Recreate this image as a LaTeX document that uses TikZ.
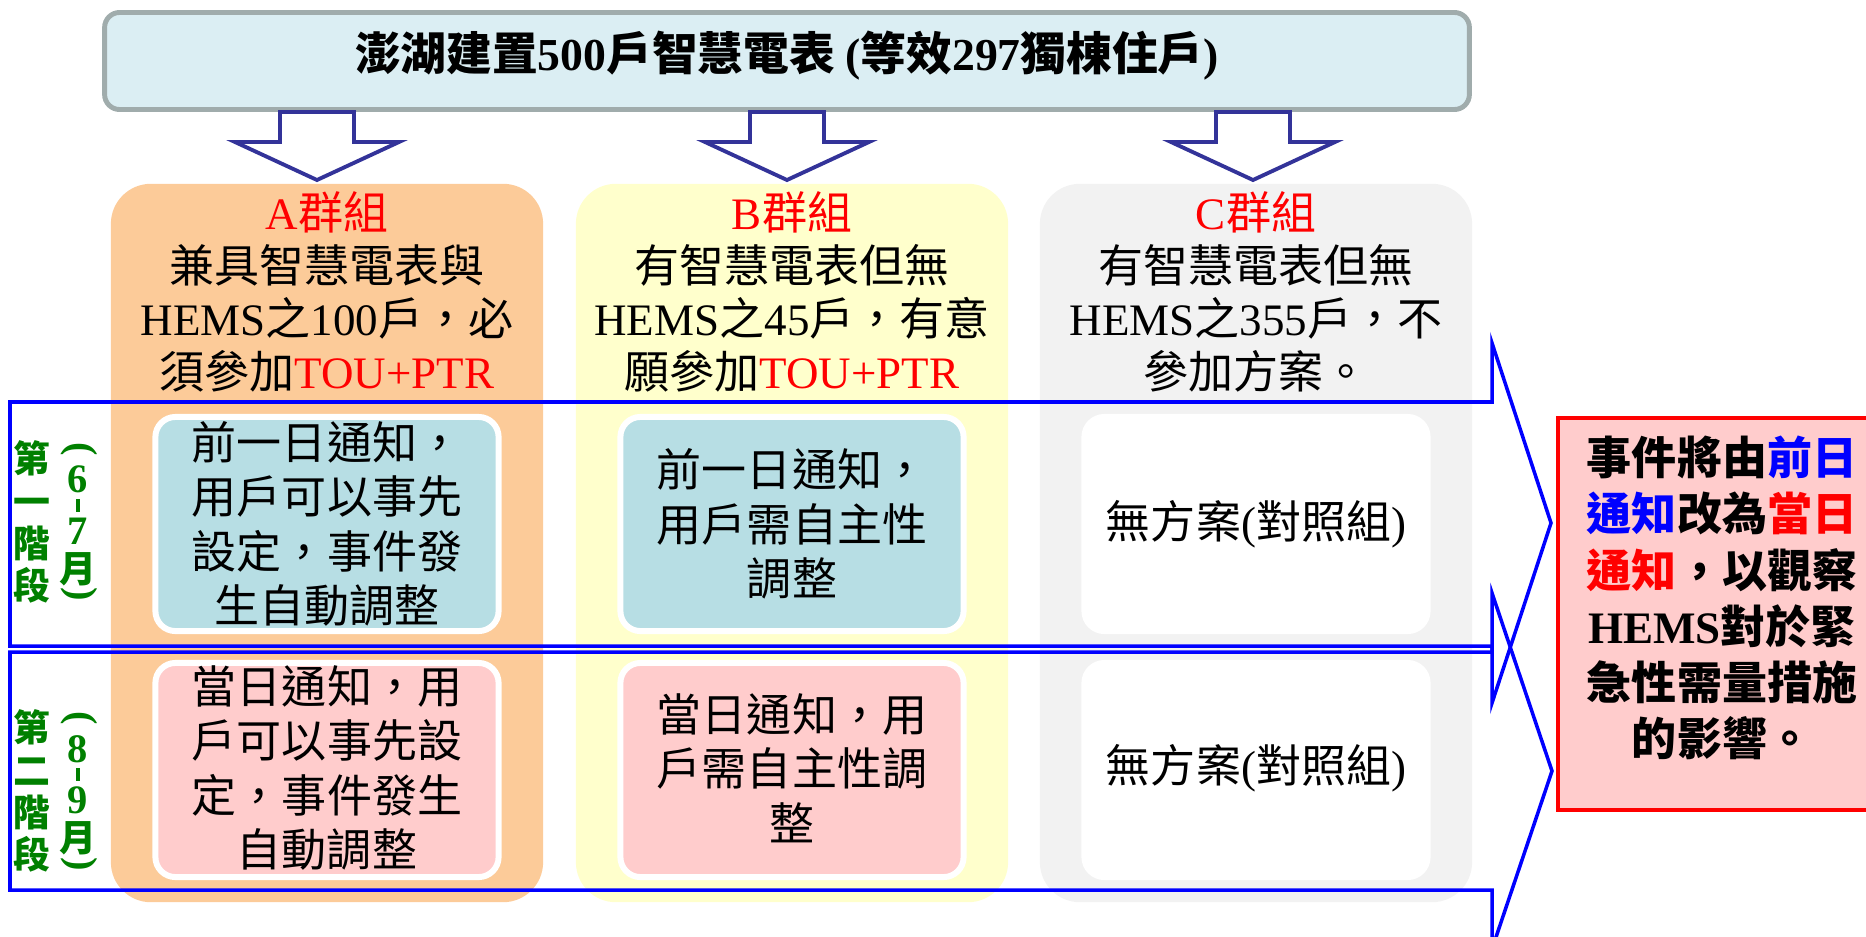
\documentclass[tikz,border=0pt]{standalone}
\usepackage{fontspec}
\setmainfont{Noto Sans CJK TC}
\newfontfamily\latinfont{Liberation Serif}
\newcommand\engl[1]{{\latinfont #1}}
\definecolor{titlefill}{RGB}{219,238,243}
\definecolor{titleline}{RGB}{160,172,172}
\definecolor{grpAfill}{RGB}{252,203,153}
\definecolor{grpBfill}{RGB}{255,255,204}
\definecolor{grpCfill}{RGB}{242,242,242}
\definecolor{tealfill}{RGB}{183,222,228}
\definecolor{pinkfill}{RGB}{255,204,204}
\definecolor{arrowblue}{RGB}{51,51,153}
\definecolor{stagegreen}{RGB}{0,128,0}
\tikzset{
  colbox/.style={rounded corners=0.4cm, minimum width=4.32cm, minimum height=7.18cm},
  planbox/.style={draw=white, line width=1.7pt, rounded corners=0.2cm, minimum width=3.43cm, minimum height=2.14cm},
  headtext/.style={align=center, font=\fontsize{12.8}{15.1}\selectfont},
  plantext/.style={align=center, font=\fontsize{12.8}{15.5}\selectfont},
  stagetext/.style={inner sep=0pt, align=center, text=stagegreen, font=\bfseries\fontsize{10.5}{12}\selectfont},
  stagechar/.style={inner sep=0pt, text=stagegreen, font=\bfseries\fontsize{11.5}{12}\selectfont},
  blockarrow/.style={draw=arrowblue, fill=white, line width=1.1pt},
  stagearrow/.style={draw=blue, line width=1pt},
}
\begin{document}
\begin{tikzpicture}[x=0.01cm, y=-0.01cm]
\useasboundingbox (0,0) rectangle (1866,936);
% groups
\node[colbox, fill=grpAfill] (grpA) at (327,543){};
\node[colbox, fill=grpBfill] (grpB) at (792,543){};
\node[colbox, fill=grpCfill] (grpC) at (1256,543){};
\node[headtext] (grpAtxt) at (327,292){\textcolor{red}{\engl{A}群組}\\兼具智慧電表與\\\engl{HEMS}之\engl{100}戶，必\\須參加\textcolor{red}{\engl{TOU+PTR}}};
\node[headtext] (grpBtxt) at (792,292){\textcolor{red}{\engl{B}群組}\\有智慧電表但無\\\engl{HEMS}之\engl{45}戶，有意\\願參加\textcolor{red}{\engl{TOU+PTR}}};
\node[headtext] (grpCtxt) at (1256,292){\textcolor{red}{\engl{C}群組}\\有智慧電表但無\\\engl{HEMS}之\engl{355}戶，不\\參加方案。};
% plans, first stage
\node[planbox, fill=tealfill] (planA1) at (327,524){};
\node[planbox, fill=tealfill] (planB1) at (792,524){};
\node[planbox, fill=white] (planC1) at (1256,524){};
\node[plantext] (planA1txt) at (327,524){前一日通知，\\用戶可以事先\\設定，事件發\\生自動調整};
\node[plantext] (planB1txt) at (792,524){前一日通知，\\用戶需自主性\\調整};
\node[plantext] (planC1txt) at (1256,524){無方案\engl{(}對照組\engl{)}};
% plans, second stage
\node[planbox, fill=pinkfill] (planA2) at (327,770){};
\node[planbox, fill=pinkfill] (planB2) at (792,770){};
\node[planbox, fill=white] (planC2) at (1256,770){};
\node[plantext] (planA2txt) at (327,768){當日通知，用\\戶可以事先設\\定，事件發生\\自動調整};
\node[plantext] (planB2txt) at (792,768){當日通知，用\\戶需自主性調\\整};
\node[plantext] (planC2txt) at (1256,768){無方案\engl{(}對照組\engl{)}};
% title
\node[draw=titleline, fill=titlefill, line width=1.4pt, rounded corners=0.15cm, minimum width=13.64cm, minimum height=0.97cm] (title) at (787,61){};
\node[font=\bfseries\fontsize{13}{15}\selectfont] (titletxt) at (787,56){澎湖建置\engl{500}戶智慧電表 \engl{(}等效\engl{297}獨棟住戶\engl{)}};
\foreach \cx in {317,787,1253}
  \draw[blockarrow] (\cx-37,112) -- (\cx-37,142) -- (\cx-82,142) -- (\cx,180) -- (\cx+82,142) -- (\cx+37,142) -- (\cx+37,112) -- cycle;
% stages
\draw[stagearrow] (10,402) -- (1492,402) -- (1492,343) -- (1551,523) -- (1492,703) -- (1492,646) -- (10,646) -- cycle;
\draw[stagearrow] (10,652) -- (1492,652) -- (1492,593) -- (1552,771) -- (1492,949) -- (1492,890) -- (10,890) -- cycle;
\node[stagetext] (stage1a) at (32,522){第\\一\\階\\段};
\node[stagechar, rotate=-90] (stage1open) at (79,449){\engl{(}};
\node[stagechar] (stage1from) at (78,479){\engl{6}};
\node[stagechar] (stage1dash) at (78,505){\rule{0.9pt}{3.7pt}};
\node[stagechar] (stage1to) at (78,531){\engl{7}};
\node[stagetext] (stage1month) at (78,569){月};
\node[stagechar, rotate=-90] (stage1close) at (79,594){\engl{)}};
\node[stagetext] (stage2a) at (32,791){第\\二\\階\\段};
\node[stagechar, rotate=-90] (stage2open) at (79,718){\engl{(}};
\node[stagechar] (stage2from) at (78,749){\engl{8}};
\node[stagechar] (stage2dash) at (78,774){\rule{0.9pt}{3.7pt}};
\node[stagechar] (stage2to) at (78,800){\engl{9}};
\node[stagetext] (stage2month) at (78,838){月};
\node[stagechar, rotate=-90] (stage2close) at (79,864){\engl{)}};
% result
\node[draw=red, fill=pinkfill, line width=1pt, minimum width=3.28cm, minimum height=3.92cm] (result) at (1722,614){};
\node[align=center, font=\bfseries\fontsize{12.8}{16}\selectfont] (resulttxt) at (1722,598){事件將由\textcolor{blue}{前日}\\\textcolor{blue}{通知}改為\textcolor{red}{當日}\\\textcolor{red}{通知}，以觀察\\\engl{HEMS}對於緊\\急性需量措施\\的影響。};
\end{tikzpicture}
\end{document}
